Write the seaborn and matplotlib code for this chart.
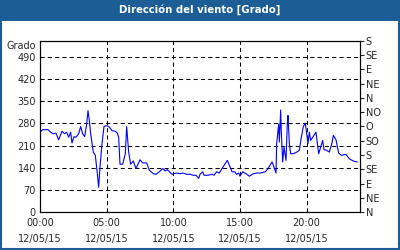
import matplotlib
matplotlib.use("Agg")
import matplotlib.pyplot as plt
import matplotlib.patches as mpatches
from matplotlib.ticker import MultipleLocator
import seaborn as sns
import pandas as pd

# ---- data (hours since 00:00 on 12/05/15, wind direction in degrees) ----
hours = [0.0, 0.2, 0.6, 0.8, 1.0, 1.2, 1.4, 1.65, 1.85, 2.0, 2.15, 2.3, 2.4, 2.55, 2.7, 2.9,
         3.05, 3.2, 3.35, 3.5, 3.6, 3.7, 3.8, 4.0, 4.15, 4.3, 4.4, 4.5, 4.65, 4.8, 5.0, 5.2,
         5.4, 5.65, 5.8, 5.9, 6.0, 6.2, 6.4, 6.5, 6.65, 6.8, 7.0, 7.2, 7.5, 7.7, 8.0, 8.2,
         8.5, 8.7, 8.95, 9.2, 9.4, 9.55, 9.9, 10.05, 10.25, 10.5, 10.75, 11.0, 11.25, 11.5,
         11.7, 11.9, 12.0, 12.2, 12.3, 12.6, 12.9, 13.05, 13.25, 13.45, 13.6, 13.9, 14.05,
         14.2, 14.4, 14.6, 14.75, 14.9, 15.0, 15.2, 15.45, 15.7, 16.0, 16.25, 16.5, 16.9,
         17.1, 17.4, 17.5, 17.7, 17.75, 17.9, 17.95, 18.05, 18.1, 18.2, 18.3, 18.45, 18.55,
         18.6, 18.7, 18.8, 19.0, 19.25, 19.45, 19.6, 19.75, 19.9, 20.0, 20.1, 20.2, 20.3,
         20.45, 20.7, 20.9, 21.05, 21.2, 21.3, 21.5, 21.7, 21.9, 22.0, 22.2, 22.4, 22.6,
         22.95, 23.2, 23.5, 23.8]
direction = [252, 260, 260, 252, 247, 249, 228, 255, 247, 252, 236, 252, 218, 238, 236, 247,
             270, 247, 238, 278, 320, 289, 247, 189, 179, 121, 78, 142, 216, 270, 273, 268,
             257, 255, 249, 236, 151, 151, 184, 270, 189, 151, 161, 137, 165, 155, 155, 132,
             121, 119, 127, 137, 130, 134, 119, 121, 123, 121, 123, 119, 119, 116,
             116, 106, 119, 127, 116, 116, 119, 116, 127, 123, 134, 153, 163,
             148, 127, 127, 119, 123, 113, 127, 121, 113, 121, 123, 123, 127,
             137, 158, 148, 123, 216, 278, 221, 322, 252, 158, 205, 163, 280,
             305, 216, 184, 184, 189, 195, 236, 270, 280, 247, 216, 252, 226,
             236, 252, 184, 205, 226, 197, 195, 189, 218, 242, 228, 186, 179,
             182, 168, 161, 158]

x_ticks = [0, 5, 10, 15, 20]
x_tick_labels = ["00:00\n12/05/15", "05:00\n12/05/15", "10:00\n12/05/15",
                 "15:00\n12/05/15", "20:00\n12/05/15"]
y_ticks = [0, 70, 140, 210, 280, 350, 420, 490]
compass_ticks = [0, 45, 90, 135, 180, 225, 270, 315, 360, 405, 450, 495, 540]
compass_labels = ["N", "NE", "E", "SE", "S", "SO", "O", "NO", "N", "NE", "E", "SE", "S"]
title = "Dirección del viento [Grado]"
y_unit = "Grado"

df = pd.DataFrame({"hora": hours, "grado": direction})

sns.set_style("white")
plt.rcParams["font.family"] = ["DejaVu Sans"]
FS = 7

fig = plt.figure(figsize=(4.0, 2.5), dpi=100)
fig.patch.set_facecolor("white")

BLUE = "#1d5d96"
# title bar and frame
fig.patches.append(mpatches.Rectangle((0, 0.918), 1, 0.082, transform=fig.transFigure,
                                      facecolor=BLUE, edgecolor="none", zorder=0))
fig.patches.append(mpatches.Rectangle((0.0025, 0.004), 0.995, 0.99, transform=fig.transFigure,
                                      facecolor="none", edgecolor=BLUE, linewidth=1.5, zorder=0))
fig.text(0.5, 0.96, title, color="white", fontsize=FS + 0.3, fontweight="bold",
         ha="center", va="center")

ax = fig.add_axes([0.1, 0.152, 0.8, 0.684])
sns.lineplot(data=df, x="hora", y="grado", ax=ax, color="#0000ff", linewidth=0.8)

ax.set_xlim(0, 24)
ax.set_ylim(0, 540)
ax.set_xlabel("")
ax.set_ylabel("")
ax.set_xticks(x_ticks)
ax.set_xticklabels(x_tick_labels, fontsize=FS, linespacing=1.75)
ax.xaxis.set_minor_locator(MultipleLocator(1))
ax.set_yticks(y_ticks)
ax.set_yticklabels([str(v) for v in y_ticks], fontsize=FS)
ax.tick_params(axis="x", which="major", direction="in", length=3, width=0.8, pad=4)
ax.tick_params(axis="x", which="minor", direction="in", length=3, width=0.8)
ax.tick_params(axis="y", which="major", length=0, pad=3)
ax.grid(True, which="major", color="black", linestyle=(0, (4, 3)), linewidth=0.75)
for s in ax.spines.values():
    s.set_color("black")
    s.set_linewidth(0.8)

ax2 = ax.twinx()
ax2.set_ylim(0, 540)
ax2.set_yticks(compass_ticks)
ax2.set_yticklabels(compass_labels, fontsize=FS)
ax2.tick_params(axis="y", direction="out", length=3, width=0.8, pad=1)
ax2.grid(False)
for s in ax2.spines.values():
    s.set_color("black")
    s.set_linewidth(0.8)

fig.text(0.09, 1 - 46 / 250, y_unit, fontsize=FS, ha="right", va="center")

fig.savefig("out.png", dpi=100, facecolor="white")
